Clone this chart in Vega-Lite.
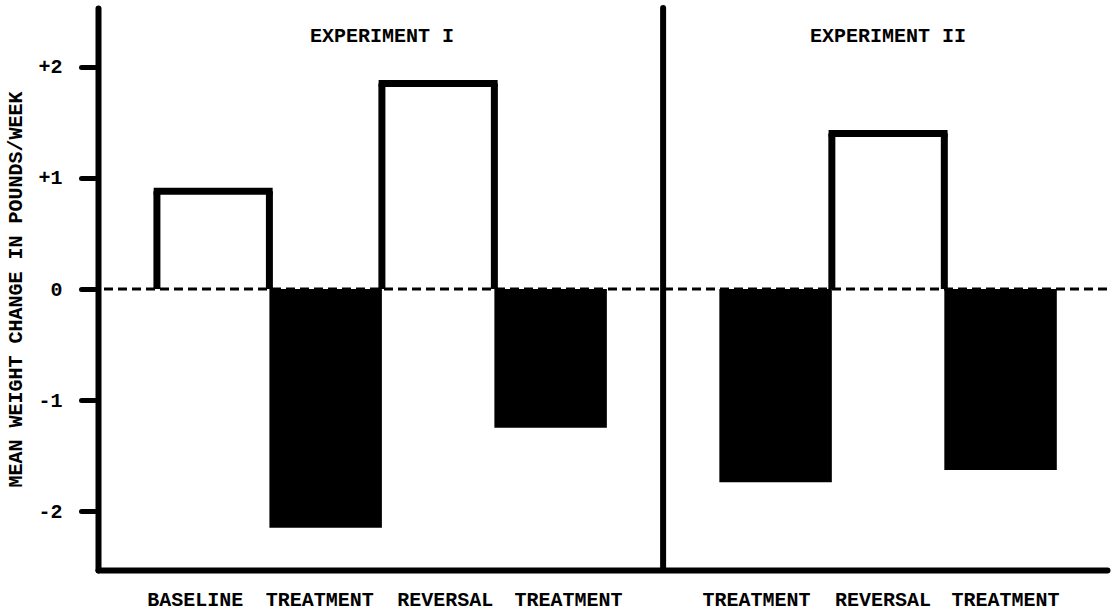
{
  "$schema": "https://vega.github.io/schema/vega-lite/v6.json",
  "width": 1009,
  "height": 562,
  "autosize": {"type": "none"},
  "padding": {"left": 98, "top": 8, "right": 10, "bottom": 42},
  "background": "white",
  "config": {
    "view": {"stroke": null},
    "font": "Liberation Mono",
    "axis": {
      "labelFont": "Liberation Mono",
      "labelFontWeight": "bold",
      "labelFontSize": 20,
      "labelColor": "black",
      "titleFont": "Liberation Mono",
      "titleFontWeight": "bold",
      "titleFontSize": 20,
      "titleColor": "black",
      "domainColor": "black",
      "domainWidth": 6,
      "domainCap": "round",
      "grid": false
    }
  },
  "datasets": {
    "bars": [
      {"experiment": "EXPERIMENT I", "slot": "I|BASELINE", "value": 0.88, "style": "open"},
      {"experiment": "EXPERIMENT I", "slot": "I|TREATMENT|a", "value": -2.15, "style": "solid"},
      {"experiment": "EXPERIMENT I", "slot": "I|REVERSAL", "value": 1.85, "style": "open"},
      {"experiment": "EXPERIMENT I", "slot": "I|TREATMENT|b", "value": -1.25, "style": "solid"},
      {"experiment": "EXPERIMENT II", "slot": "II|TREATMENT|a", "value": -1.74, "style": "solid"},
      {"experiment": "EXPERIMENT II", "slot": "II|REVERSAL", "value": 1.4, "style": "open"},
      {"experiment": "EXPERIMENT II", "slot": "II|TREATMENT|b", "value": -1.63, "style": "solid"}
    ]
  },
  "layer": [
    {
      "data": {"name": "bars"},
      "transform": [{"filter": "datum.style == 'solid'"}],
      "mark": {"type": "bar", "color": "black"},
      "encoding": {
        "x": {
          "field": "slot",
          "type": "nominal",
          "scale": {
            "domain": ["I|BASELINE", "I|TREATMENT|a", "I|REVERSAL", "I|TREATMENT|b", "gap|", "II|TREATMENT|a", "II|REVERSAL", "II|TREATMENT|b"],
            "paddingInner": 0,
            "paddingOuter": 0.485,
            "align": 0.54
          },
          "axis": {
            "title": null,
            "labelExpr": "split(datum.value, '|')[1]",
            "ticks": false,
            "labelPadding": 19,
            "labelAngle": 0,
            "labelOffset": {
              "condition": [
                {"test": "datum.value == 'I|BASELINE'", "value": -18},
                {"test": "datum.value == 'I|TREATMENT|a'", "value": -6},
                {"test": "datum.value == 'I|REVERSAL'", "value": 7},
                {"test": "datum.value == 'I|TREATMENT|b'", "value": 18},
                {"test": "datum.value == 'II|TREATMENT|a'", "value": -19},
                {"test": "datum.value == 'II|REVERSAL'", "value": -5},
                {"test": "datum.value == 'II|TREATMENT|b'", "value": 5}
              ],
              "value": 0
            }
          }
        },
        "y": {
          "field": "value",
          "type": "quantitative",
          "scale": {"domain": [-2.53, 2.53], "nice": false, "zero": false},
          "axis": {
            "title": "MEAN WEIGHT CHANGE IN POUNDS/WEEK",
            "values": [-2, -1, 0, 1, 2],
            "labelExpr": "datum.value > 0 ? '+' + datum.value : '' + datum.value",
            "tickSize": 17,
            "tickWidth": 5,
            "tickColor": "black",
            "tickCap": "round",
            "labelPadding": 19,
            "titlePadding": 12
          }
        },
        "y2": {"datum": 0}
      }
    },
    {
      "data": {"name": "bars"},
      "transform": [{"filter": "datum.style == 'open'"}],
      "mark": {"type": "rule", "color": "black", "strokeWidth": 7},
      "encoding": {
        "x": {"field": "slot", "type": "nominal", "bandPosition": 0},
        "y": {"field": "value", "type": "quantitative"},
        "y2": {"datum": 0}
      }
    },
    {
      "data": {"name": "bars"},
      "transform": [{"filter": "datum.style == 'open'"}],
      "mark": {"type": "rule", "color": "black", "strokeWidth": 7},
      "encoding": {
        "x": {"field": "slot", "type": "nominal", "bandPosition": 1},
        "y": {"field": "value", "type": "quantitative"},
        "y2": {"datum": 0}
      }
    },
    {
      "data": {"name": "bars"},
      "transform": [{"filter": "datum.style == 'open'"}],
      "mark": {"type": "tick", "color": "black", "size": 119, "thickness": 7, "opacity": 1},
      "encoding": {
        "x": {"field": "slot", "type": "nominal"},
        "y": {"field": "value", "type": "quantitative"}
      }
    },
    {
      "data": {"values": [{"value": 0}]},
      "mark": {"type": "rule", "color": "black", "strokeWidth": 3, "strokeDash": [9, 5]},
      "encoding": {
        "y": {"field": "value", "type": "quantitative"}
      }
    },
    {
      "data": {"values": [{"slot": "gap|"}]},
      "mark": {"type": "rule", "color": "black", "strokeWidth": 6, "strokeCap": "round"},
      "encoding": {
        "x": {"field": "slot", "type": "nominal"},
        "y": {"datum": -2.53},
        "y2": {"datum": 2.53}
      }
    },
    {
      "data": {"values": [{"title": "EXPERIMENT I", "slot": "I|REVERSAL", "value": 2.28}]},
      "mark": {"type": "text", "font": "Liberation Mono", "fontWeight": "bold", "fontSize": 20, "color": "black", "baseline": "middle", "align": "center"},
      "encoding": {
        "x": {"field": "slot", "type": "nominal", "bandPosition": 0},
        "y": {"field": "value", "type": "quantitative"},
        "text": {"field": "title"}
      }
    },
    {
      "data": {"values": [{"title": "EXPERIMENT II", "slot": "II|REVERSAL", "value": 2.28}]},
      "mark": {"type": "text", "font": "Liberation Mono", "fontWeight": "bold", "fontSize": 20, "color": "black", "baseline": "middle", "align": "center"},
      "encoding": {
        "x": {"field": "slot", "type": "nominal"},
        "y": {"field": "value", "type": "quantitative"},
        "text": {"field": "title"}
      }
    }
  ]
}
